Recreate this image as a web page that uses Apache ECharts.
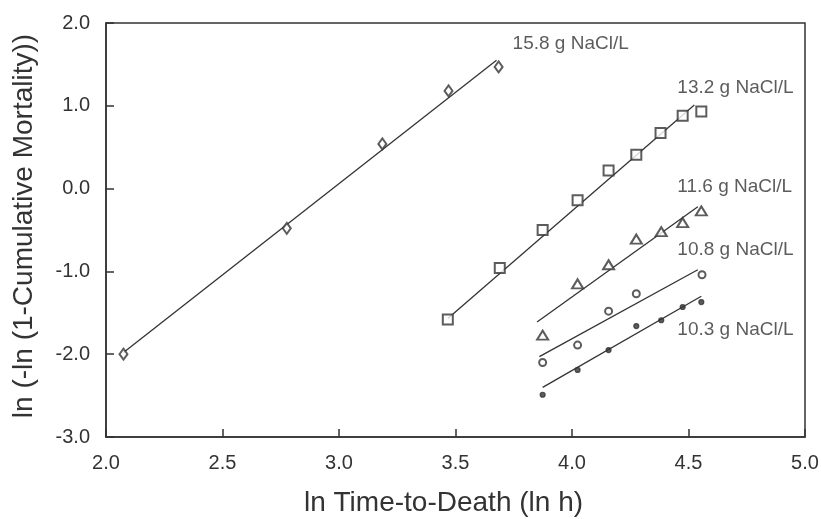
<!DOCTYPE html>
<html>
<head>
<meta charset="utf-8">
<script src="https://cdn.jsdelivr.net/npm/echarts@6/dist/echarts.min.js"></script>
<style>
  html, body { margin: 0; padding: 0; background: #fff; }
  #chart { width: 821px; height: 519px; }
</style>
</head>
<body>
<div id="chart"></div>
<script>
// observed points, [ln time, ln(-ln(1-mortality))]
var pts158 = [[2.075, -2.0], [2.776, -0.48], [3.186, 0.54], [3.47, 1.18], [3.685, 1.47]]
var pts132 = [[3.467, -1.58], [3.69, -0.96], [3.874, -0.5], [4.024, -0.14], [4.157, 0.22], [4.276, 0.41], [4.38, 0.67], [4.475, 0.88], [4.555, 0.93]]
var pts116 = [[3.874, -1.77], [4.024, -1.15], [4.157, -0.92], [4.276, -0.61], [4.383, -0.52], [4.475, -0.41], [4.555, -0.27]]
var pts108 = [[3.874, -2.1], [4.024, -1.89], [4.157, -1.48], [4.276, -1.27], [4.558, -1.04]]
var pts103 = [[3.874, -2.49], [4.024, -2.19], [4.157, -1.95], [4.276, -1.66], [4.383, -1.59], [4.475, -1.43], [4.555, -1.37]]

// fitted regression lines (end points)
var fit158 = [[2.075, -1.98], [3.676, 1.55]]
var fit132 = [[3.467, -1.57], [4.525, 1.01]]
var fit116 = [[3.85, -1.61], [4.54, -0.22]]
var fit108 = [[3.86, -2.03], [4.54, -0.98]]
var fit103 = [[3.874, -2.4], [4.555, -1.3]]

var groupNames = ['15.8 g NaCl/L', '13.2 g NaCl/L', '11.6 g NaCl/L', '10.8 g NaCl/L', '10.3 g NaCl/L']
// where each concentration label sits (left edge, middle)
var labelAt = [[3.745, 1.75], [4.452, 1.215], [4.452, 0.02], [4.452, -0.74], [4.452, -1.71]]

var xTicks = { min: 2, max: 5, step: 0.5 }
var yTicks = { min: -3, max: 2, step: 1 }

var ink = '#333'
var font = 'Liberation Sans, Arial, sans-serif'

function scatter (data, symbol, size) {
  return {
    type: 'scatter',
    data: data,
    symbol: symbol,
    symbolSize: size,
    itemStyle: { color: ink, borderColor: ink, borderWidth: 1.2 },
    z: 3
  }
}
function fitLine (data) {
  return {
    type: 'line',
    data: data,
    showSymbol: false,
    lineStyle: { color: ink, width: 1.3 },
    silent: true,
    z: 2
  }
}

var chart = echarts.init(document.getElementById('chart'))
var option = {
  animation: false,
  backgroundColor: '#fff',
  grid: {
    left: 106, top: 23, right: 16, bottom: 82,
    outerBoundsMode: 'none',
    show: true, borderColor: ink, borderWidth: 1.5
  },
  xAxis: {
    type: 'value',
    min: xTicks.min, max: xTicks.max, interval: xTicks.step,
    name: 'ln Time-to-Death (ln h)',
    nameLocation: 'middle',
    nameGap: 52,
    nameTextStyle: { fontFamily: font, fontSize: 28, color: ink, padding: [0, 24, 0, 0] },
    axisLine: { onZero: false, lineStyle: { color: ink, width: 1.5 } },
    axisTick: { inside: true, length: 8, lineStyle: { color: ink, width: 1.5 } },
    axisLabel: { fontFamily: font, fontSize: 20, color: ink, margin: 16, formatter: function (v) { return v.toFixed(1) } },
    splitLine: { show: false }
  },
  yAxis: {
    type: 'value',
    min: yTicks.min, max: yTicks.max, interval: yTicks.step,
    name: 'ln (-ln (1-Cumulative Mortality))',
    nameLocation: 'middle',
    nameGap: 68,
    nameTextStyle: { fontFamily: font, fontSize: 28, color: ink, padding: [0, 0, 0, 8] },
    axisLine: { onZero: false, lineStyle: { color: ink, width: 1.5 } },
    axisTick: { inside: true, length: 8, lineStyle: { color: ink, width: 1.5 } },
    axisLabel: { fontFamily: font, fontSize: 20, color: ink, margin: 16, formatter: function (v) { return v.toFixed(1) } },
    splitLine: { show: false }
  },
  series: [
    fitLine(fit158), fitLine(fit132), fitLine(fit116), fitLine(fit108), fitLine(fit103),
    scatter(pts158, 'emptyDiamond', [8, 11]),
    scatter(pts132, 'emptyRect', 10),
    scatter(pts116, 'emptyTriangle', [11, 9]),
    scatter(pts108, 'emptyCircle', 7),
    scatter(pts103, 'circle', 5),
    {
      type: 'scatter',
      symbolSize: 0,
      silent: true,
      data: labelAt.map(function (p, i) { return { value: p, name: groupNames[i] } }),
      label: {
        show: true,
        position: 'right',
        distance: 0,
        formatter: '{b}',
        fontFamily: font,
        fontSize: 19,
        color: ink
      }
    }
  ]
}
chart.setOption(option)
</script>
</body>
</html>
